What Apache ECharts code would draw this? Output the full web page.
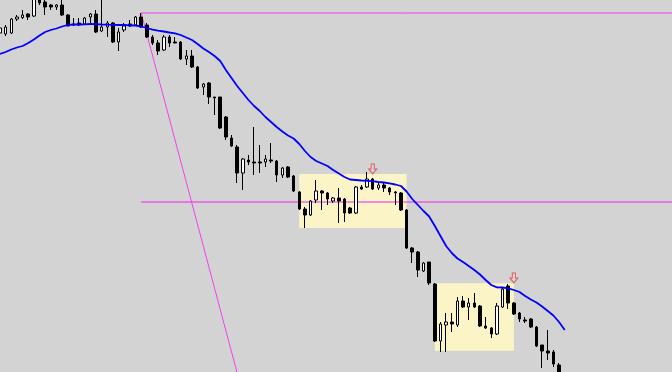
<!DOCTYPE html>
<html>
<head>
<meta charset="utf-8">
<script src="https://cdn.jsdelivr.net/npm/echarts@6/dist/echarts.min.js"></script>
<style>
html,body{margin:0;padding:0;background:#d3d3d3;}
#chart{width:672px;height:372px;}
</style>
</head>
<body>
<div id="chart"></div>
<script>
// Bar slots (index = bar number), including empty space to the right of the last bar
var categories = [];
for (var k = 0; k < 120; k++) categories.push('Bar ' + k);

// OHLC values (arbitrary price units)
var opens  = [339,338,339,353,354.5,358,356,375,370,367,365,367,357,348,349,348,355,358,341,345,
              349,330,342,348,347,355,347,335,329,322,335,330,330,313,316,305,285,289,275,275,
              255,234,225,199,212,210,210,210,212,211,197,205,196,180,163,157,172,181,179,171,
              174,173,164,159,185,185,193,184,187,184,180,179,162,124,120,101,110,88,31,47,
              50,47,71,65,69,66,46,44,38,65,86,69,59,52,53,45,27,21,20,7];
var closes = [344,345,353,355,357,355,374,369,365,365,367,357,346,347,347,354,358,340,345,349,
              330,340,346,346,355,345,335,329,321,335,329,329,313,316,305,284,288,275,274,244,
              235,226,199,213,210,209,209,213,211,197,204,195,181,163,157,171,181,179,173,174,
              171,159,159,185,183,193,183,187,184,180,179,162,124,120,102,109,89,31,48,50,
              48,71,65,69,65,46,44,38,66,83,69,58,53,51,45,26,21,19,8,-3];
var lows   = [337,336,338,351,353,352,355,367,357,362,362,356,346,346,346,347,348,339,340,335,
              329,321,340,345,346,344,334,327,317,321,325,329,312,307,304,283,277,268,257,243,
              232,225,189,182,207,197,199,205,209,190,194,194,180,162,144,156,169,162,167,169,
              149,150,158,158,182,184,182,182,180,177,167,161,123,109,95,100,87,30,20,20,
              40,45,64,52,64,45,43,34,37,64,63,57,50,49,44,25,4,12,5,-6];
var highs  = [346,347,354,357,362,359,377,378,374,368,368,373,358,354,354,355,359,362,374,351,
              350,344,349,352,356,359,349,337,332,337,337,335,331,322,322,306,289,290,275,275,
              256,237,227,214,217,245,227,217,229,212,205,206,197,181,165,172,192,182,180,175,
              184,174,165,186,187,200,194,189,189,185,181,180,163,125,121,110,110,89,50,59,
              59,75,76,74,79,67,55,45,69,85,88,70,60,55,54,46,27,42,22,9];

// Moving average (blue line), one value per bar
var maValues = [318,320,322.5,324.5,326,329,332.5,336.5,340,342,343.5,345.5,347,347.5,347.5,347.7,348,347.8,347.5,347.3,
                347.2,347,347,346.7,346.5,345.5,344,342.3,341.3,340.5,339.5,338.7,337,334.5,332,328,323.5,320,316,311,
                302,294,286,279,272,266,261,255,250,245,240.5,236.5,233.5,228,221,215,211,208.5,206,202,
                198.5,195,192.5,192,191.5,191.2,190.8,190,189.5,188.7,187.5,186,180.5,173,167,161,155.5,146,136,126,
                119,113.5,110,106,102,97.5,92,87,84.7,84.5,83.7,82,80,76,72.5,69.5,65.5,61,56.5,50,42];

// Drawn objects: [bar index, price]
var topLine   = [[25, 359], [119, 359]];
var midLine   = [[25, 170], [119, 170]];
var trendLine = [[25, 359], [42, -1]];
var arrows    = [[66, 203], [91, 94]];
// Rectangles: [startBar, topPrice, endBar, bottomPrice]
var boxes = [[53, 198, 72, 144], [77, 88.7, 91, 21.3]];

var ohlc = opens.map(function (o, i) { return [o, closes[i], lows[i], highs[i]]; });

var chart = echarts.init(document.getElementById('chart'), null, {renderer: 'canvas'});
chart.setOption({
  animation: false,
  backgroundColor: '#d3d3d3',
  grid: {left: 0, right: 0, top: 0, bottom: 0},
  xAxis: {
    type: 'category', data: categories, boundaryGap: false,
    axisLine: {show: false}, axisTick: {show: false}, axisLabel: {show: false}, splitLine: {show: false}
  },
  yAxis: {
    type: 'value', min: 0, max: 372, scale: false,
    axisLine: {show: false}, axisTick: {show: false}, axisLabel: {show: false}, splitLine: {show: false}
  },
  series: [
    {
      type: 'candlestick', data: ohlc, barWidth: 3, clip: true, z: 3,
      itemStyle: {color: '#ffffff', color0: '#000000', borderColor: '#000000', borderColor0: '#000000', borderWidth: 1},
      markArea: {
        silent: true, z: 1,
        itemStyle: {color: '#fbf4c6'},
        data: boxes.map(function (b) { return [{xAxis: b[0], yAxis: b[1]}, {xAxis: b[2], yAxis: b[3]}]; })
      }
    },
    {type: 'line', data: topLine, symbol: 'none', lineStyle: {color: '#f040f0', width: 1}, z: 2, clip: true},
    {type: 'line', data: midLine, symbol: 'none', lineStyle: {color: '#f020f0', width: 1}, z: 2, clip: true},
    {type: 'line', data: trendLine, symbol: 'none', lineStyle: {color: '#f040f0', width: 1}, z: 2, clip: true},
    {type: 'line', data: maValues, symbol: 'none', smooth: false, lineStyle: {color: '#0000ff', width: 1.8}, z: 5, clip: true},
    {
      type: 'scatter', data: arrows, z: 6,
      symbol: 'path://M3,0 L7,0 L7,5 L10,5 L5,10 L0,5 L3,5 Z',
      symbolSize: [8, 10],
      itemStyle: {color: 'rgba(255,255,255,0)', borderColor: '#e8383d', borderWidth: 1}
    }
  ]
});
</script>
</body>
</html>
